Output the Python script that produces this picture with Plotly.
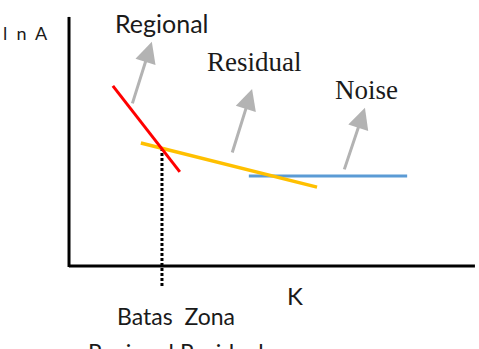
import plotly.graph_objects as go

# Schematic values (K on x, ln A on y), arbitrary units 0..10
axis_x_k = [0, 10]
axis_y_k = [0, 0]
axis_x_ln = [0, 0]
axis_y_ln = [-0.04, 10]

regional_k = [1.08, 2.73]
regional_lnA = [7.23, 3.78]

residual_k = [1.77, 6.11]
residual_lnA = [4.94, 3.17]

noise_k = [4.43, 8.33]
noise_lnA = [3.61, 3.61]

boundary_k = [2.29, 2.29]
boundary_lnA = [4.74, -0.84]

# arrows: (tail_x, tail_y, tip_x, tip_y)
arrow_regional = [1.55, 6.47, 2.04, 9.00]
arrow_residual = [4.01, 4.50, 4.51, 7.11]
arrow_noise = [6.77, 3.82, 7.29, 6.35]

fig = go.Figure()

fig.add_trace(go.Scatter(x=axis_x_k, y=axis_y_k, mode="lines",
                         line=dict(color="black", width=3), hoverinfo="skip"))
fig.add_trace(go.Scatter(x=axis_x_ln, y=axis_y_ln, mode="lines",
                         line=dict(color="black", width=3), hoverinfo="skip"))
fig.add_trace(go.Scatter(x=boundary_k, y=boundary_lnA, mode="lines",
                         line=dict(color="black", width=3, dash="3px,2px"), hoverinfo="skip"))
fig.add_trace(go.Scatter(x=noise_k, y=noise_lnA, mode="lines",
                         line=dict(color="#5B9BD5", width=3), hoverinfo="skip"))
fig.add_trace(go.Scatter(x=residual_k, y=residual_lnA, mode="lines",
                         line=dict(color="#FFC000", width=3.5), hoverinfo="skip"))
fig.add_trace(go.Scatter(x=regional_k, y=regional_lnA, mode="lines",
                         line=dict(color="#FF0000", width=3), hoverinfo="skip"))

arrow_color = "#B3B3B3"
for a in (arrow_regional, arrow_residual, arrow_noise):
    fig.add_annotation(x=a[2], y=a[3], ax=a[0], ay=a[1], xref="x", yref="y",
                       axref="x", ayref="y", text="", showarrow=True,
                       arrowhead=2, arrowsize=1.4, arrowwidth=3,
                       arrowcolor=arrow_color)

sans = "Lato, Carlito, sans-serif"
serif = "Liberation Serif, Times New Roman, serif"
txt = "#1a1a1a"

labels = [
    ("Regional", 2.29, 9.76, sans, 25, "middle"),
    ("Residual", 4.58, 8.19, serif, 27, "middle"),
    ("Noise", 7.32, 7.07, serif, 27, "middle"),
    ("l  n  A", -1.08, 9.36, sans, 18, "middle"),
    ("K", 5.57, -1.17, sans, 24, "middle"),
    ("Batas  Zona", 2.64, -2.01, sans, 23, "middle"),
    ("Regional Residual", 2.64, -2.80, sans, 23, "top"),
]
for t, x, y, f, s, ya in labels:
    fig.add_annotation(x=x, y=y, xref="x", yref="y", text=t, showarrow=False,
                       font=dict(family=f, size=s, color=txt),
                       xanchor="center", yanchor=ya)

fig.update_layout(
    width=479, height=349,
    margin=dict(l=0, r=0, t=0, b=0),
    paper_bgcolor="white", plot_bgcolor="white",
    showlegend=False,
    xaxis=dict(range=[-1.70, 10.10], visible=False, fixedrange=True),
    yaxis=dict(range=[-3.33, 10.68], visible=False, fixedrange=True),
)

fig.write_html("out.html")
